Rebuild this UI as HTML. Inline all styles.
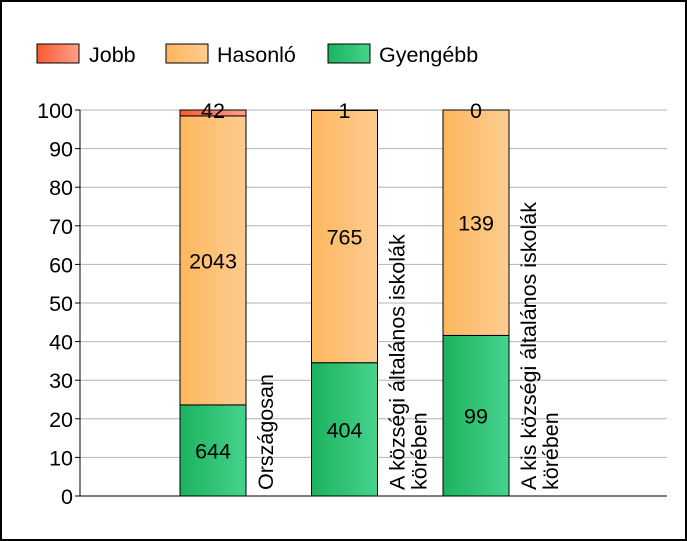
<!DOCTYPE html>
<html><head><meta charset="utf-8"><style>
body{margin:0;background:#fff}
svg{display:block;font-family:"Liberation Sans",sans-serif}
</style></head><body>
<svg id="c" width="687" height="541">
<defs>
<linearGradient id="gJ" x1="0" x2="1"><stop offset="0" stop-color="#fb5a32"/><stop offset="1" stop-color="#fca08a"/></linearGradient>
<linearGradient id="gH" x1="0" x2="1"><stop offset="0" stop-color="#fdb75e"/><stop offset="1" stop-color="#fdcc90"/></linearGradient>
<linearGradient id="gG" x1="0" x2="1"><stop offset="0" stop-color="#1cb25f"/><stop offset="1" stop-color="#46d38c"/></linearGradient>
</defs>
<rect x="1" y="1" width="685" height="539" fill="#fff" stroke="#000" stroke-width="2"/>
<g>
<rect x="37" y="44" width="42" height="19" fill="url(#gJ)" stroke="#000"/>
<text x="89" y="62" font-size="21.5">Jobb</text>
<rect x="166" y="44" width="42" height="19" fill="url(#gH)" stroke="#000"/>
<text x="217" y="62" font-size="21.5">Hasonló</text>
<rect x="328" y="44" width="42" height="19" fill="url(#gG)" stroke="#000"/>
<text x="379" y="62" font-size="21.5">Gyengébb</text>
</g>
<g id="grid"></g><g id="bars"></g><g id="labels"></g>
</svg>
<script>
const categories=["Országosan","A községi általános iskolák|körében","A kis községi általános iskolák|körében"];
const gyengebb=[644,404,99];
const hasonlo=[2043,765,139];
const jobb=[42,1,0];
const yTicks=[0,10,20,30,40,50,60,70,80,90,100];
const NS="http://www.w3.org/2000/svg";
const x0=80,x1=667,yBot=496,yTop=110;
const y=v=>yBot-(v/100)*(yBot-yTop);
const barX=i=>180+i*131.5, bw=66;
function mk(t,a,p){const e=document.createElementNS(NS,t);for(const k in a)e.setAttribute(k,a[k]);p.appendChild(e);return e;}
const grid=document.getElementById('grid'),bars=document.getElementById('bars'),labels=document.getElementById('labels');
yTicks.forEach(v=>{
 const l=mk('line',{x1:x0,x2:x1,y1:y(v),y2:y(v),stroke:v===0?'#000':'#b4b4b4','stroke-width':1},grid);
 
 
 const tk=mk('line',{x1:x0-5,x2:x0,y1:y(v),y2:y(v),stroke:'#000'},grid);
 
 
 const t=mk('text',{x:x0-7,y:y(v)+8,'text-anchor':'end','font-size':21.5},grid);t.textContent=v;
 
 
});
const ax=mk('line',{x1:x0,x2:x0,y1:yTop,y2:yBot,stroke:'#000'},grid);


const series=[["gyengebb",gyengebb,"url(#gG)"],["hasonlo",hasonlo,"url(#gH)"],["jobb",jobb,"url(#gJ)"]];
categories.forEach((c,i)=>{
 const tot=gyengebb[i]+hasonlo[i]+jobb[i];let acc=0;
 series.forEach(([n,arr,f])=>{
  const p=arr[i]/tot*100,ya=y(acc+p),yb=y(acc);
  const r=mk('rect',{x:barX(i),y:ya,width:bw,height:Math.max(yb-ya,0),fill:f,stroke:'#000','stroke-width':1},bars);
  
  
  const ty=(n==='jobb')?y(100)+8:(ya+yb)/2+8;
  const t=mk('text',{x:barX(i)+bw/2,y:ty,'text-anchor':'middle','font-size':21.5},labels);t.textContent=arr[i];
  
  
  acc+=p;
 });
 const lines=c.split('|');
 lines.forEach((ln,j)=>{
  const lx=barX(i)+bw+27+j*22;
  const t=mk('text',{x:lx,y:490,transform:`rotate(-90 ${lx} 490)`,'font-size':21.5},labels);t.textContent=ln;
  
  
 });
});
</script>
</body></html>
